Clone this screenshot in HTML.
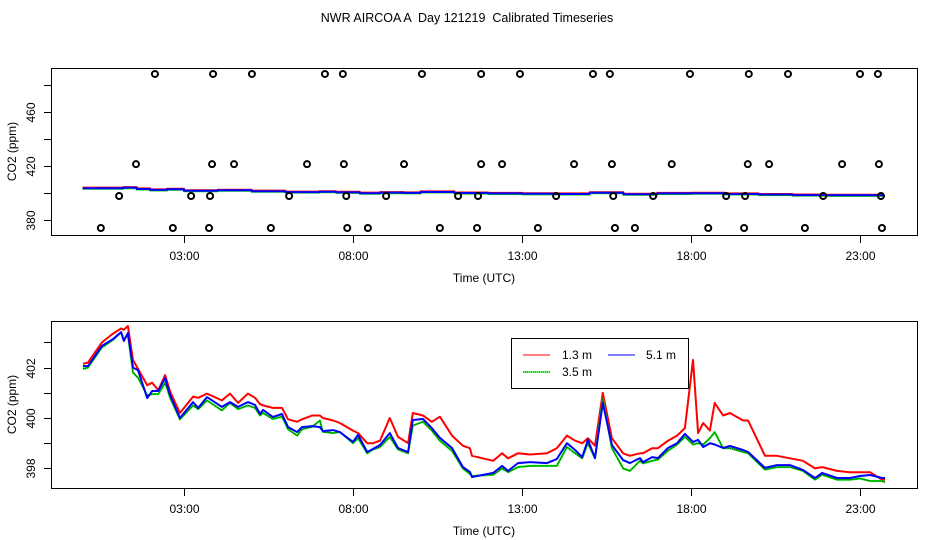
<!DOCTYPE html>
<html><head><meta charset="utf-8"><style>
html,body{margin:0;padding:0;background:#fff;}
svg{display:block;font-family:"Liberation Sans",sans-serif;}
</style></head><body>
<svg id="c" width="936" height="540" viewBox="0 0 936 540">
<rect x="0" y="0" width="936" height="540" fill="#fff"/>
<text x="467" y="22" text-anchor="middle" font-size="12.5" xml:space="preserve">NWR AIRCOA A  Day 121219  Calibrated Timeseries</text>
</svg>
<script>
// ---- data ----
const xTickLabels = ["03:00","08:00","13:00","18:00","23:00"];
const xTickHours = [3,8,13,18,23];
const topYTicks = [380,400,420,440,460,480];
const topYLabels = ["380","","420","","460",""];
const botYTicks = [398,399,400,401,402,403];
const botYLabels = ["398","","400","","402",""];
const circleLevels = [487.8,421,397.4,373.7];
const circleHoursTop = [2.14,3.86,5.01,7.17,7.70,10.04,11.79,12.94,15.10,15.60,17.97,19.71,20.87,23.00,23.53];
const circleHours420 = [1.58,3.83,4.48,6.64,7.73,9.51,11.79,12.41,14.54,15.66,17.43,19.68,20.31,22.47,23.56];
const circleHours397 = [1.08,3.21,3.77,6.11,7.80,8.98,11.11,11.70,14.01,15.70,16.88,19.04,19.60,21.91,23.62];
const circleHours374 = [0.54,2.67,3.74,5.57,7.83,8.44,10.57,11.67,13.47,15.75,16.34,18.51,19.57,21.37,23.65];
const topTimes = [0.0,1.2,1.6,2.0,2.5,3.0,4.0,5.0,6.0,7.0,7.5,8.2,8.8,9.5,10.0,11.0,12.0,13.0,14.0,15.0,16.0,17.0,18.0,19.0,20.0,21.0,22.0,23.7];
const topBlue = [403.2,403.6,402.6,401.9,402.4,401.3,401.7,401.0,400.3,400.6,400.1,399.5,399.9,399.7,400.4,399.6,399.3,399.0,398.9,399.8,398.7,399.3,399.4,398.9,398.5,398.1,397.9,397.8];
const times = [0.01,0.16,0.57,0.90,1.14,1.22,1.34,1.49,1.64,1.91,2.06,2.24,2.44,2.59,2.88,3.27,3.42,3.68,4.12,4.36,4.60,4.89,5.10,5.25,5.34,5.63,5.90,6.08,6.35,6.49,6.79,7.02,7.11,7.41,7.61,8.00,8.15,8.42,8.59,8.80,9.09,9.33,9.63,9.77,10.07,10.33,10.57,10.93,11.25,11.46,11.52,12.15,12.41,12.59,12.88,13.24,13.74,14.03,14.33,14.57,14.78,14.95,15.16,15.39,15.66,15.99,16.19,16.49,16.58,16.85,17.02,17.32,17.59,17.82,18.06,18.21,18.36,18.56,18.70,18.95,19.15,19.54,19.69,20.19,20.54,20.93,21.31,21.67,21.88,22.32,22.70,23.00,23.30,23.65,23.74];
const blue = [402.06,402.06,402.86,403.13,403.41,403.06,403.37,402.0,401.9,400.79,401.07,401.07,401.59,400.91,400.0,400.63,400.4,400.83,400.44,400.63,400.44,400.63,400.52,400.16,400.32,400.04,400.16,399.64,399.44,399.64,399.68,399.64,399.48,399.52,399.44,399.05,399.33,398.65,398.77,398.93,399.40,398.81,398.65,399.92,399.96,399.60,399.21,398.81,398.06,397.86,397.66,397.82,398.10,397.90,398.21,398.25,398.21,398.37,399.0,398.73,398.45,399.13,398.41,400.60,398.93,398.33,398.21,398.41,398.25,398.45,398.41,398.81,399.0,399.37,399.05,399.13,398.85,399.0,398.95,398.81,398.89,398.73,398.65,398.02,398.13,398.13,397.94,397.62,397.82,397.62,397.62,397.70,397.74,397.62,397.62];
const green = [401.95,402.0,402.8,403.1,403.4,403.1,403.3,401.8,401.6,400.9,400.95,400.95,401.4,400.8,399.95,400.5,400.35,400.7,400.3,400.6,400.35,400.5,400.4,400.1,400.2,399.96,400.05,399.55,399.3,399.55,399.65,399.9,399.45,399.4,399.45,399.0,399.2,398.6,398.75,398.85,399.25,398.75,398.6,399.7,399.85,399.5,399.1,398.7,398.0,397.78,397.7,397.75,398.0,397.85,398.05,398.1,398.1,398.1,398.85,398.6,398.4,399.0,398.4,400.75,398.8,398.0,397.9,398.3,398.2,398.3,398.35,398.7,398.95,399.25,398.95,399.0,398.95,399.2,399.44,398.8,398.8,398.65,398.6,397.95,398.05,398.05,397.9,397.55,397.75,397.55,397.55,397.6,397.5,397.5,397.45];
const red = [402.15,402.2,403.0,403.35,403.55,403.5,403.65,402.3,401.95,401.3,401.4,401.1,401.7,401.05,400.2,400.85,400.8,400.97,400.7,400.97,400.6,400.97,400.8,400.55,400.5,400.4,400.4,399.95,399.85,399.95,400.1,400.1,400.0,399.9,399.8,399.5,399.4,399.0,399.0,399.1,400.0,399.25,399.0,400.2,400.1,399.85,400.05,399.3,398.9,398.8,398.5,398.3,398.6,398.4,398.6,398.55,398.6,398.8,399.3,399.1,399.0,399.2,398.9,401.0,399.2,398.6,398.5,398.6,398.6,398.8,398.8,399.1,399.3,399.6,402.3,399.4,399.8,399.5,400.6,400.1,400.2,399.9,399.9,398.5,398.5,398.4,398.3,398.0,398.05,397.9,397.85,397.85,397.85,397.55,397.55];

// ---- geometry ----
const NS="http://www.w3.org/2000/svg";
const svg=document.getElementById('c');
function mk(tag,attrs,parent){const e=document.createElementNS(NS,tag);for(const k in attrs)e.setAttribute(k,attrs[k]);(parent||svg).appendChild(e);return e;}
const PX0=51,PX1=917;
const xs=h=>82.6+h*33.8;
const topY=v=>192.5-(v-400)*1.35;
const botY=v=>418-(v-400)*25.2;

function panel(name,y0,y1,yfn,ticks,labels,xtitleY){
  const g=mk('g',{});
  
  
  const box=mk('rect',{x:PX0+0.5,y:y0+0.5,width:PX1-PX0,height:y1-y0,fill:'none',stroke:'#000','stroke-width':1},g);
  
  
  xTickHours.forEach((h,i)=>{
    const x=Math.round(xs(h))+0.5;
    const t=mk('line',{x1:x,x2:x,y1:y1,y2:y1+8,stroke:'#000'},g);
    
    
    const l=mk('text',{x:x,y:y1+25,'text-anchor':'middle','font-size':12},g);
    
    
    l.textContent=xTickLabels[i];
  });
  ticks.forEach((v,i)=>{
    const y=Math.round(yfn(v))+0.5;
    const t=mk('line',{x1:PX0-7,x2:PX0,y1:y,y2:y,stroke:'#000'},g);
    
    
    if(labels[i]){
      const l=mk('text',{x:0,y:0,'text-anchor':'middle','font-size':12,transform:`translate(35,${y}) rotate(-90)`},g);
      
      
      l.textContent=labels[i];
    }
  });
  const xt=mk('text',{x:484,y:xtitleY,'text-anchor':'middle','font-size':12},g);
  
  
  xt.textContent='Time (UTC)';
  const yt=mk('text',{x:0,y:0,'text-anchor':'middle','font-size':12,transform:`translate(16,${(y0+y1)/2}) rotate(-90)`},g);
  
  
  yt.textContent='CO2 (ppm)';
  return g;
}
const gTop=panel('top-panel',68,235,topY,topYTicks,topYLabels,282);
const gBot=panel('bottom-panel',321,488,botY,botYTicks,botYLabels,535);

function line(g,tx,vals,yfn,color,w,name,step,dash){
  let d='';
  for(let i=0;i<tx.length;i++){
    const x=xs(tx[i]).toFixed(1),y=yfn(vals[i]).toFixed(1);
    if(i===0)d+=`M${x},${y}`;
    else if(step)d+=`H${x}V${y}`;
    else d+=`L${x},${y}`;
  }
  const p=mk('path',{d:d,fill:'none',stroke:color,'stroke-width':w,'stroke-linejoin':'round'},g);
  if(dash)p.setAttribute('stroke-dasharray',dash);
  
  
}
// top series
line(gTop,topTimes,topBlue.map(v=>v+0.4),topY,'#ff0000',2,'top-series-1-3m',true);
line(gTop,topTimes,topBlue.map(v=>v-0.4),topY,'#00dd00',2,'top-series-3-5m',true);
line(gTop,topTimes,topBlue,topY,'#0000ff',2,'top-series-5-1m',true);
// circles
[circleHoursTop,circleHours420,circleHours397,circleHours374].forEach((arr,k)=>{
  arr.forEach(h=>{
    const c=mk('circle',{cx:xs(h),cy:topY(circleLevels[k]),r:3,fill:'none',stroke:'#000','stroke-width':2},gTop);
    
    
  });
});
// bottom series
line(gBot,times,red,botY,'#ff0000',2,'series-1-3m');
line(gBot,times,green,botY,'#00dd00',2,'series-3-5m');
line(gBot,times,green,botY,'#000000',0.6,'series-3-5m-dots',false,'1,1');
line(gBot,times,blue,botY,'#0000ff',2,'series-5-1m');
// legend
const lg=mk('g',{});


mk('rect',{x:511.5,y:338.5,width:177,height:50,fill:'#fff',stroke:'#000'},lg);
const entries=[["1.3 m",'#ff0000',523,355,562],["5.1 m",'#0000ff',608,355,646],["3.5 m",'#00dd00',523,372,562]];
entries.forEach(e=>{
  const le=mk('g',{},lg);
  
  
  mk('line',{x1:e[2],x2:e[2]+27,y1:e[3],y2:e[3],stroke:e[1],'stroke-width':1},le);
  if(e[0]==="3.5 m")mk('line',{x1:e[2],x2:e[2]+27,y1:e[3],y2:e[3],stroke:'#000','stroke-width':1,'stroke-dasharray':'1,1'},le);
  const t=mk('text',{x:e[4],y:e[3]+4,'font-size':12},le);
  t.textContent=e[0];
});
</script>
</body></html>
